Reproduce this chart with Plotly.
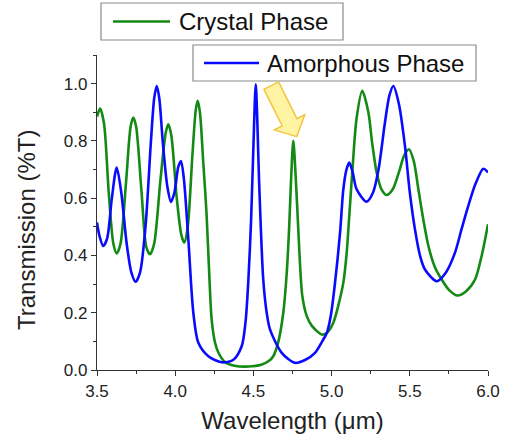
import plotly.graph_objects as go
import math

# ---- data ----
crystal_x = [3.50, 3.52, 3.545, 3.575, 3.605, 3.626, 3.65, 3.685, 3.715, 3.732, 3.75, 3.785, 3.815,
             3.839, 3.865, 3.905, 3.94, 3.956, 3.975, 4.01, 4.04, 4.058, 4.08, 4.11, 4.132, 4.144,
             4.158, 4.18, 4.20, 4.218, 4.233, 4.255, 4.276, 4.318, 4.38, 4.468, 4.55, 4.60, 4.627,
             4.66, 4.691, 4.712, 4.728, 4.742, 4.755, 4.768, 4.787, 4.80, 4.813, 4.84, 4.873, 4.937,
             4.97, 5.011, 5.045, 5.075, 5.095, 5.113, 5.135, 5.16, 5.196, 5.235, 5.26, 5.288, 5.32, 5.352,
             5.39, 5.43, 5.465, 5.495, 5.525, 5.555, 5.585, 5.619, 5.66, 5.704, 5.75, 5.806, 5.86,
             5.917, 5.96, 6.0]
crystal_y = [0.885, 0.913, 0.86, 0.62, 0.44, 0.407, 0.44, 0.65, 0.85, 0.882, 0.85, 0.62, 0.43,
             0.404, 0.44, 0.66, 0.83, 0.858, 0.82, 0.60, 0.47, 0.445, 0.50, 0.75, 0.91, 0.94,
             0.90, 0.72, 0.55, 0.33, 0.177, 0.095, 0.061, 0.028, 0.015, 0.012, 0.018, 0.032, 0.048,
             0.10, 0.20, 0.33, 0.49, 0.68, 0.80, 0.70, 0.49, 0.35, 0.258, 0.19, 0.155, 0.124,
             0.13, 0.165, 0.23, 0.305, 0.40, 0.538, 0.713, 0.88, 0.975, 0.90, 0.79, 0.69, 0.63, 0.611,
             0.63, 0.69, 0.75, 0.771, 0.73, 0.631, 0.53, 0.433, 0.36, 0.316, 0.28, 0.26, 0.275,
             0.316, 0.40, 0.509]

amorph_x = [3.50, 3.515, 3.54, 3.565, 3.595, 3.626, 3.655, 3.69, 3.72, 3.747, 3.775, 3.81, 3.845,
            3.866, 3.882, 3.898, 3.92, 3.95, 3.973, 3.995, 4.02, 4.037, 4.055, 4.084, 4.116, 4.148,
            4.212, 4.297, 4.37, 4.425, 4.45, 4.468, 4.485, 4.50, 4.515, 4.525, 4.536, 4.563, 4.585,
            4.606, 4.681, 4.766, 4.83, 4.894, 4.94, 4.97, 4.995, 5.022, 5.054, 5.075, 5.095, 5.113,
            5.135, 5.16, 5.224, 5.265, 5.30, 5.34, 5.37, 5.395, 5.43, 5.469, 5.50, 5.533, 5.565,
            5.597, 5.672, 5.73, 5.789, 5.83, 5.874, 5.92, 5.97, 6.0]
amorph_y = [0.515, 0.47, 0.433, 0.46, 0.60, 0.707, 0.62, 0.44, 0.34, 0.308, 0.34, 0.50, 0.80,
            0.95, 0.992, 0.95, 0.80, 0.64, 0.587, 0.62, 0.71, 0.730, 0.67, 0.456, 0.20, 0.095,
            0.048, 0.027, 0.035, 0.083, 0.17, 0.316, 0.52, 0.78, 0.998, 0.87, 0.666, 0.316, 0.20,
            0.142, 0.06, 0.025, 0.035, 0.06, 0.10, 0.13, 0.19, 0.305, 0.48, 0.631, 0.70, 0.724,
            0.69, 0.631, 0.588, 0.62, 0.70, 0.86, 0.96, 0.992, 0.93, 0.783, 0.62, 0.491, 0.40,
            0.351, 0.31, 0.34, 0.41, 0.49, 0.573, 0.65, 0.703, 0.69]

x_ticks = [3.5, 4.0, 4.5, 5.0, 5.5, 6.0]
y_ticks = [0.0, 0.2, 0.4, 0.6, 0.8, 1.0]
series_names = ["Crystal Phase", "Amorphous Phase"]

GREEN = "#138a13"
BLUE = "#0a0aff"
FONT = "Liberation Sans, Arial, sans-serif"

W, H = 505, 438
ML, MR, MT, MB = 97, 17, 55, 68
XR = [3.5, 6.0]
YR = [0.0, 1.1]

fig = go.Figure()
fig.add_trace(go.Scatter(x=crystal_x, y=crystal_y, mode="lines", name=series_names[0],
                         line=dict(color=GREEN, width=2.6, shape="spline", smoothing=0.8),
                         showlegend=False))
fig.add_trace(go.Scatter(x=amorph_x, y=amorph_y, mode="lines", name=series_names[1],
                         line=dict(color=BLUE, width=2.6, shape="spline", smoothing=0.8),
                         showlegend=False))

axis_common = dict(showline=True, linecolor="#333", linewidth=1.3, ticks="outside",
                   ticklen=5, tickwidth=1.2, tickcolor="#333", showgrid=False, zeroline=False,
                   automargin=False,
                   tickfont=dict(family=FONT, size=17, color="#222"))
fig.update_xaxes(range=XR, tickvals=x_ticks, ticktext=[f"{v:.1f}" for v in x_ticks],
                 minor=dict(dtick=0.25, ticks="outside", ticklen=3, tickcolor="#333", tickwidth=1),
                 title=dict(text="Wavelength (μm)", font=dict(family=FONT, size=24, color="#222"),
                            standoff=12),
                 **axis_common)
fig.update_yaxes(range=YR, tickvals=y_ticks, ticktext=[f"{v:.1f}" for v in y_ticks],
                 minor=dict(tick0=0, dtick=0.1, ticks="outside", ticklen=3, tickcolor="#333", tickwidth=1),
                 **axis_common)

# pixel -> paper helpers for legend boxes
pw, ph = W - ML - MR, H - MT - MB
def px(xpix):
    return (xpix - ML) / pw
def py(ypix):
    return (H - MB - ypix) / ph

shapes = []
annotations = []

# Y title (offset lower than centre as in reference)
annotations.append(dict(text="Transmission (%T)", xref="paper", yref="paper",
                        x=px(26), y=py(230), xanchor="center", yanchor="middle",
                        textangle=-90, showarrow=False,
                        font=dict(family=FONT, size=24, color="#222")))

# manual legend boxes
legend_specs = [
    (series_names[0], GREEN, (101, 3, 343, 40), (113, 170), 177),
    (series_names[1], BLUE, (193, 45, 476, 81), (204, 259), 265),
]
for name, col, (x0, y0, x1, y1), (lx0, lx1), tx in legend_specs:
    shapes.append(dict(type="rect", xref="paper", yref="paper", x0=px(x0), x1=px(x1),
                       y0=py(y1), y1=py(y0), fillcolor="white",
                       line=dict(color="#8a8a8a", width=1.2), layer="above"))
    yc = (y0 + y1) / 2
    shapes.append(dict(type="line", xref="paper", yref="paper", x0=px(lx0), x1=px(lx1),
                       y0=py(yc), y1=py(yc), line=dict(color=col, width=2.6), layer="above"))
    annotations.append(dict(text=name, xref="paper", yref="paper", x=px(tx), y=py(yc + 0.5),
                            xanchor="left", yanchor="middle", showarrow=False,
                            font=dict(family=FONT, size=24, color="#111")))

# block arrow pointing at the crystal-phase peak near 4.75 um
tip_x, tip_y = 4.777, 0.815
sx = pw / (XR[1] - XR[0])   # px per x unit
sy = ph / (YR[1] - YR[0])   # px per y unit
dx, dy = 25.2, 50.5  # direction in screen pixels (down-right)
L = math.hypot(dx, dy)
ux, uy = dx / L, dy / L
nx, ny = uy, -ux
total, head_len, hw_shaft, hw_head = 57, 16, 8.2, 17
def to_data(ox, oy):
    return tip_x + ox / sx, tip_y - oy / sy
base = (-ux * head_len, -uy * head_len)
tail = (-ux * total, -uy * total)
pts_pix = [(0, 0),
           (base[0] + nx * hw_head, base[1] + ny * hw_head),
           (base[0] + nx * hw_shaft, base[1] + ny * hw_shaft),
           (tail[0] + nx * hw_shaft, tail[1] + ny * hw_shaft),
           (tail[0] - nx * hw_shaft, tail[1] - ny * hw_shaft),
           (base[0] - nx * hw_shaft, base[1] - ny * hw_shaft),
           (base[0] - nx * hw_head, base[1] - ny * hw_head)]
pts = [to_data(a, b) for a, b in pts_pix]
path = "M " + " L ".join(f"{a:.5f},{b:.5f}" for a, b in pts) + " Z"
shapes.append(dict(type="path", xref="x", yref="y", path=path,
                   fillcolor="#fff4a3", line=dict(color="#f3c43f", width=1.5), layer="above"))

fig.update_layout(width=W, height=H, margin=dict(l=ML, r=MR, t=MT, b=MB, pad=0),
                  paper_bgcolor="white", plot_bgcolor="white",
                  shapes=shapes, annotations=annotations, showlegend=False)

fig.write_html("out.html")
